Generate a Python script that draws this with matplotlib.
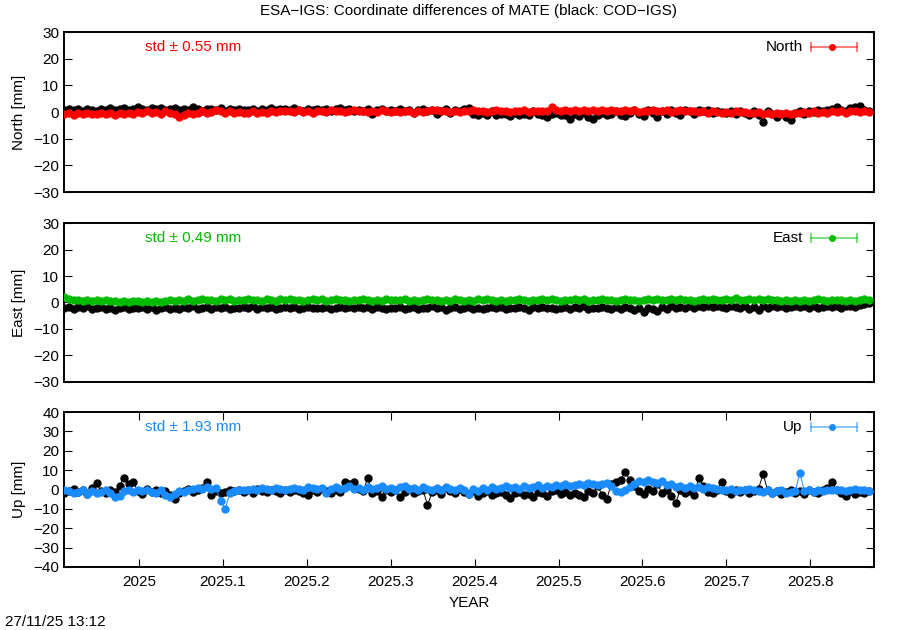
import pandas as pd
import matplotlib
matplotlib.use('Agg')
import matplotlib.pyplot as plt

# daily-ish epochs (every second day) of the ESA-IGS / COD-IGS comparison
start_date = '2024-11-29'
n_epochs = 176

# north differences [mm]
north_cod = [0.9, 1.2, 0.6, 1.0, 0.4, 1.1, 0.7, 0.5,
             1.3, 0.8, 1.5, 0.6, 1.0, 1.4, 0.7, 1.1,
             1.8, 1.2, 0.9, 1.6, 1.0, 1.4, 0.8, 1.2,
             1.5, 0.6, 1.3, 0.9, 1.7, 1.1, 0.5, 1.0,
             1.2, 0.8, 1.4, 0.4, 1.0, 0.7, 1.3, 0.6,
             0.9, 1.1, 0.5, 1.2, 0.8, 1.5, 0.6, 1.0,
             1.2, 0.7, 1.4, 0.9, 0.3, 1.0, 0.6, 1.1,
             0.8, 1.3, 0.5, 1.0, 1.4, 0.7, 1.2, 0.4,
             0.9, 0.2, 1.1, -0.8, 0.6, 1.0, 0.3, 0.8,
             0.5, 1.2, 0.2, 0.9, -0.5, 0.7, 1.0, 0.3,
             0.6, -0.6, 0.4, 1.0, -0.3, 0.8, 0.2, 1.2,
             1.4, -0.8, -1.2, -0.5, -1.0, 0.3, -1.3, -0.7,
             -0.9, -1.6, -0.4, -1.0, -0.6, -1.2, 0.4, -0.8,
             -1.1, -2.0, -0.7, -0.3, -1.2, -1.0, -2.5, -0.6,
             -1.4, -0.5, -1.8, -2.6, -1.1, -0.4, -1.3, -0.8,
             0.2, -1.0, -1.6, -0.5, 0.6, -0.9, -1.4, 0.8,
             -0.5, -2.0, 0.4, -0.7, 0.9, -0.3, -1.2, 0.6,
             0.3, -0.6, 0.9, 0.2, 0.7, -0.4, 0.5, 0.1,
             -0.2, 0.5, -0.8, 0.3, -0.5, -1.0, 0.4, -1.2,
             -3.6, 0.3, -0.9, -1.8, -0.6, -2.0, -3.0, -0.5,
             0.2, -0.6, 0.5, 0.1, 0.8, 0.3, 0.6, 1.0,
             2.0, 0.7, 0.4, 1.5, 1.8, 2.3, 0.6, 0.2]
north_esa = [-0.8, -0.4, -1.0, -0.5, -0.9, -0.2, -0.7, -0.6,
             -0.3, -0.9, -0.5, -1.2, -0.4, -0.8, -0.2, -0.6,
             -0.1, -0.5, 0.2, -0.4, 0.0, -0.6, 0.3, -0.2,
             -0.8, -1.7, -1.2, -0.5, -0.9, -0.3, 0.2, -0.4,
             0.1, 0.9, 0.3, -0.2, 0.4, -0.3, 0.0, -0.5,
             -0.2, 0.2, -0.4, 0.1, -0.3, 0.3, 0.0, 0.4,
             0.2, 0.5, 0.0, 0.6, 0.1, 0.4, -0.2, 0.3,
             0.5, 0.1, 0.7, 0.2, 0.4, 0.0, 0.3, 0.6,
             0.2, 0.5, 0.0, 0.4, 0.1, 0.6, 0.2, -0.1,
             0.3, 0.0, 0.5, 0.2, -0.2, 0.4, 0.1, 0.3,
             0.6, 0.9, 0.2, 0.5, 0.1, 0.4, 0.0, 0.5,
             0.3, 0.6, 0.2, 0.5, 0.0, 0.4, 0.7, 0.3,
             0.4, 0.1, 0.5, 0.2, 0.6, 0.0, 0.4, 0.3,
             0.5, 0.2, 1.8, 0.6, 0.3, 0.8, 0.4, 0.9,
             0.5, 0.7, 0.3, 0.9, 0.4, 0.6, 0.2, 0.8,
             0.5, 0.3, 0.7, 0.2, 0.6, 0.1, 0.5, 0.3,
             0.6, 0.2, 0.4, 0.7, 0.1, 0.5, 0.9, 0.3,
             0.2, 0.5, 0.0, 0.4, -0.2, 0.3, 0.1, -0.3,
             0.0, -0.4, 0.2, -0.1, 0.1, -0.5, -0.2, 0.0,
             -0.6, -0.2, -0.8, -0.4, -0.7, -0.3, -0.9, -0.5,
             -0.3, 0.0, -0.5, 0.2, -0.2, 0.1, -0.4, 0.3,
             0.0, 0.4, -0.3, 0.2, 0.5, -0.1, 0.3, 0.0]

# east differences [mm]
east_cod = [-2.0, -1.6, -2.4, -1.8, -2.2, -1.5, -2.6, -2.0,
            -1.7, -2.3, -1.9, -2.8, -2.1, -1.6, -2.4, -1.9,
            -2.2, -1.8, -2.5, -1.6, -2.9, -2.0, -1.7, -2.3,
            -1.9, -2.6, -1.8, -2.2, -1.5, -2.4, -2.0, -1.7,
            -2.3, -1.8, -2.1, -1.6, -2.5, -1.9, -2.2, -1.7,
            -2.0, -1.5, -2.4, -1.8, -2.1, -1.6, -2.3, -1.9,
            -1.7, -2.2, -1.8, -2.5, -2.0, -1.6, -2.2, -1.9,
            -2.1, -1.7, -2.4, -1.9, -1.6, -2.2, -1.8, -2.0,
            -1.6, -2.1, -1.8, -2.3, -1.7, -2.0, -2.5, -1.9,
            -2.2, -1.8, -2.6, -2.0, -1.7, -2.3, -1.9, -2.1,
            -1.5, -2.0, -1.7, -3.0, -2.2, -1.8, -2.4, -2.0,
            -1.7, -2.3, -1.9, -2.6, -2.1, -1.6, -2.2, -1.8,
            -2.4, -1.9, -2.2, -1.6, -2.0, -2.7, -1.8, -2.1,
            -1.7, -2.2, -1.9, -2.5, -2.0, -1.6, -2.3, -1.8,
            -2.1, -1.5, -2.4, -1.9, -2.2, -1.6, -2.0, -2.6,
            -1.8, -2.3, -1.7, -2.1, -2.8, -1.9, -3.4, -2.0,
            -2.5, -3.3, -1.8, -2.4, -1.4, -2.0, -1.6, -2.2,
            -1.5, -1.9, -1.3, -1.7, -1.2, -1.8, -1.4, -1.6,
            -1.9, -1.3, -1.6, -2.0, -1.4, -2.4, -1.7, -2.8,
            -1.5, -1.9, -1.3, -1.7, -1.4, -2.0, -1.6, -1.2,
            -1.8, -1.4, -1.9, -1.5, -2.1, -1.6, -1.3, -1.8,
            -1.4, -1.9, -1.5, -1.2, -1.7, -1.0, -0.6, -0.3]
east_esa = [2.0, 1.3, 0.8, 1.1, 0.6, 1.0, 0.7, 0.9,
            0.5, 0.8, 0.4, 0.7, 0.3, 0.6, 0.2, 0.5,
            0.4, 0.1, 0.5, 0.3, 0.7, 0.2, 0.6, 0.9,
            0.5, 1.0, 0.7, 1.2, 0.6, 0.9, 1.3, 0.8,
            1.1, 0.7, 1.4, 0.9, 1.2, 0.6, 1.0, 0.8,
            1.3, 0.9, 1.1, 0.6, 1.4, 1.0, 0.7, 1.2,
            0.9, 1.3, 0.8, 1.1, 0.6, 1.0, 1.4, 0.9,
            1.2, 0.7, 1.0, 1.3, 0.8, 1.1, 0.6, 1.0,
            0.8, 1.2, 0.9, 0.6, 1.1, 0.7, 1.3, 0.9,
            1.1, 0.8, 1.3, 0.7, 1.0, 0.6, 0.9, 1.2,
            0.8, 1.1, 0.6, 1.0, 0.7, 1.2, 0.9, 0.5,
            1.0, 0.7, 1.2, 0.8, 1.4, 0.9, 0.6, 1.1,
            0.7, 1.0, 0.8, 1.3, 0.9, 0.6, 1.1, 0.8,
            1.2, 0.9, 1.5, 1.0, 0.7, 1.1, 0.8, 1.3,
            0.9, 1.2, 0.7, 1.0, 0.8, 1.3, 0.9, 1.1,
            0.7, 1.0, 1.3, 0.8, 1.1, 0.6, 1.0, 1.2,
            0.9, 1.3, 0.8, 1.1, 1.4, 0.9, 1.2, 0.8,
            1.1, 0.7, 1.0, 1.3, 0.9, 1.2, 0.8, 1.0,
            1.3, 0.9, 1.6, 1.1, 0.8, 1.2, 0.9, 1.4,
            1.0, 1.3, 0.8, 1.1, 0.7, 1.0, 0.6, 0.9,
            0.7, 1.0, 0.6, 0.9, 1.2, 0.8, 0.5, 1.0,
            0.8, 1.1, 0.7, 1.0, 0.6, 0.9, 1.2, 1.0]

# up differences [mm]
up_cod = [-2.0, -1.0, 0.5, -1.5, -0.5, -2.5, 1.0, 3.5,
          -1.0, -2.0, 0.0, -1.5, 2.0, 6.0, 3.0, 4.0,
          -1.0, -2.5, 0.5, -1.5, -0.5, -2.0, -1.0, -3.0,
          -5.0, -2.0, -1.0, 0.5, -1.5, -0.5, 1.0, 4.0,
          -3.0, -1.0, -2.0, -1.5, -0.5, -1.0, 0.0, -1.5,
          -0.5, -2.0, 0.5, -1.0, -1.5, 0.0, -1.0, -2.0,
          -0.5, -1.5, 0.0, -1.0, -2.0, -3.0, -0.5, -1.5,
          0.5, -1.0, -2.0, 0.0, -1.5, 4.0, 3.0, 4.0,
          0.5, -1.0, 6.0, -2.0, -1.0, -4.0, 0.0, -1.5,
          -0.5, -4.0, -1.5, 0.5, -2.0, -1.0, 0.0, -8.0,
          -1.5, 0.0, -2.5, 1.0, -1.0, -2.0, 0.5, -1.5,
          -2.5, -1.0, -3.5, -2.0, -1.0, -3.0, -2.0, -1.5,
          -3.0, -4.5, -2.0, -1.5, -3.0, -2.5, -4.0, -1.5,
          -2.0, -3.5, -1.0, 0.0, -2.5, -1.5, -3.0, -2.0,
          -3.0, -4.0, -1.0, -2.0, 2.0, -3.0, -5.0, 3.0,
          4.0, 5.0, 9.0, 5.0, 2.0, -1.0, -2.5, 0.5,
          -1.0, 3.0, -2.0, -0.5, -3.5, -7.0, 0.0, -2.0,
          -1.0, -3.0, 6.0, 2.0, -1.5, -2.0, -0.5, 4.0,
          -1.0, -2.5, 0.0, -1.5, -0.5, -2.0, -1.0, 0.5,
          8.0, -0.5, -2.0, -1.0, -2.5, -1.5, -0.5, -2.0,
          -1.0, -2.5, 0.0, -1.5, -2.0, -0.5, 1.0, 4.0,
          -0.5, -2.0, -3.5, -1.0, -2.5, -1.5, -2.0, -1.0]
up_esa = [0.0, -1.0, -2.0, -1.5, -0.5, -2.5, -1.0, -2.0,
          -1.5, -0.5, -2.0, -4.0, -3.5, -1.0, -0.5, -1.5,
          -0.5, -1.0, 0.0, -1.5, -2.0, -0.5, -3.0, -4.0,
          -2.5, -1.0, -1.5, -0.5, 0.5, 1.0, 0.5, 1.5,
          0.5, 1.0, -6.0, -10.0, -2.0, -1.0, -0.5, 0.0,
          -0.5, 0.5, 0.0, 1.0, 0.5, 0.0, 1.0, 0.5,
          0.0, 0.5, 1.0, 0.5, 0.0, 1.5, 1.0, 0.5,
          1.0, -2.0, 0.5, 1.5, 0.5, 1.0, 2.0, 0.5,
          1.0, 0.0, 1.5, 0.5, 1.0, 2.0, 0.5, 1.0,
          0.0, 1.5, 2.0, 0.5, 1.0, 0.0, 1.5, 0.5,
          -0.5, 1.0, 0.0, 1.5, 0.5, -0.5, 1.0, 0.0,
          -2.5, 0.5, -1.0, 1.0, 0.0, 1.5, 0.5, 1.0,
          2.0, 1.0, 1.5, 0.5, 2.0, 1.0, 1.5, 2.5,
          1.0, 2.0, 1.5, 2.5, 2.0, 3.0, 2.0, 2.5,
          3.0, 2.5, 3.5, 3.0, 2.5, 3.0, 3.5, 2.0,
          -1.0, -1.5, -0.5, 1.5, 3.0, 4.5, 4.0, 5.0,
          4.0, 3.5, 4.5, 2.5, 3.0, 1.5, 2.0, 1.0,
          2.0, 1.0, 1.5, 0.5, 1.5, 1.0, 0.5, 0.0,
          -0.5, 0.5, -1.0, 0.0, -0.5, 0.5, 0.0, -1.0,
          -1.5, -0.5, -2.0, -1.0, -0.5, -2.0, -1.5, -1.0,
          8.5, -1.0, -0.5, -1.5, 0.0, -1.0, -0.5, 0.0,
          -0.5, 0.0, -1.0, -0.5, 0.5, -0.5, 0.0, -1.0]

components = ['North', 'East', 'Up']
std_values = [0.55, 0.49, 1.93]
colors = ['#ff0000', '#00bb00', '#1a8cff']
ylims = [(-30, 30), (-30, 30), (-40, 40)]
year_ticks = [2025.0, 2025.1, 2025.2, 2025.3, 2025.4, 2025.5, 2025.6, 2025.7, 2025.8]
year_labels = ['2025', '2025.1', '2025.2', '2025.3', '2025.4', '2025.5', '2025.6', '2025.7', '2025.8']

plt.rcParams['font.family'] = ['Liberation Sans', 'DejaVu Sans']
plt.rcParams['font.size'] = 11


def decimal_years():
    dates = pd.date_range(start_date, periods=n_epochs, freq='2D')
    ndays = pd.Series(dates.is_leap_year).map({True: 366, False: 365}).values
    return dates.year + (dates.dayofyear - 0.5) / ndays


def draw_panel(ax, x, cod, esa, name, std, color, ylim, last):

    #black first, the esa solution goes on top
    ax.plot(x, cod, color='black', lw=0.7, marker='o', ms=5, mec='black', zorder=2)
    ax.plot(x, esa, color=color, lw=0.7, marker='o', ms=5, mec=color, zorder=3)

    ax.set_xlim(2024.9106, 2025.876)
    ax.set_ylim(*ylim)
    ax.set_yticks(range(ylim[0], ylim[1] + 1, 10))
    ax.set_ylabel('%s [mm]' % name, labelpad=5)

    ax.tick_params(direction='in', length=6, width=0.8, right=True, labelsize=11)
    if last:
        ax.set_xticks(year_ticks)
        ax.set_xticklabels(year_labels)
        ax.tick_params(axis='x', top=True, pad=6)
        ax.set_xlabel('YEAR', labelpad=5)
    else:
        ax.set_xticks([])

    for s in ax.spines.values():
        s.set_linewidth(1.4)

    #std text and the gnuplot-like key
    ax.text(0.1, 0.906, 'std \u00b1 %.2f mm' % std, color=color,
            transform=ax.transAxes, ha='left', va='center', fontsize=11)
    ax.text(0.912, 0.906, name, color='black', transform=ax.transAxes,
            ha='right', va='center', fontsize=11)
    ax.plot([0.922, 0.979], [0.906, 0.906], color=color, alpha=0.6, lw=1.2,
            transform=ax.transAxes, clip_on=False)
    ax.plot([0.922, 0.979], [0.906, 0.906], color=color, alpha=0.6, lw=0,
            marker='|', ms=7, mew=1.2, transform=ax.transAxes, clip_on=False)
    ax.plot([0.948], [0.906], color=color, marker='o', ms=4,
            transform=ax.transAxes, clip_on=False)


def main():

    x = decimal_years()

    fig = plt.figure(figsize=(9, 6.3), dpi=100)
    boxes = [[0.0711, 0.6952, 0.9, 0.254],
             [0.0711, 0.3937, 0.9, 0.2523],
             [0.0711, 0.1, 0.9, 0.246]]
    series = [(north_cod, north_esa), (east_cod, east_esa), (up_cod, up_esa)]

    for k in range(3):
        ax = fig.add_axes(boxes[k])
        draw_panel(ax, x, series[k][0], series[k][1], components[k],
                   std_values[k], colors[k], ylims[k], k == 2)

    #title is centred over the plot area, not the figure
    fig.text(0.521, 0.983, 'ESA\u2212IGS: Coordinate differences of MATE (black: COD\u2212IGS)',
             ha='center', va='center', fontsize=11)
    fig.text(0.006, 0.013, '27/11/25 13:12', ha='left', va='center', fontsize=11)

    fig.savefig('out.png', dpi=100)


if __name__ == '__main__':
    main()
